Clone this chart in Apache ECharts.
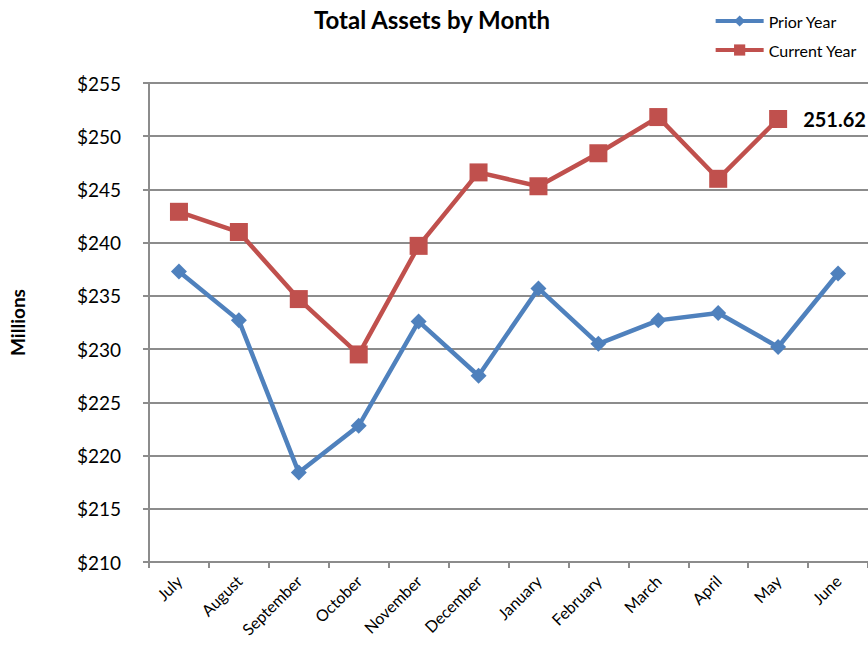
<!DOCTYPE html>
<html>
<head>
<meta charset="utf-8">
<script src="https://cdn.jsdelivr.net/npm/echarts@6/dist/echarts.min.js"></script>
<style>
  html, body { margin: 0; padding: 0; background: #fff; }
  #chart { width: 868px; height: 645px; }
</style>
</head>
<body>
<div id="chart"></div>
<script>
var months = ['July', 'August', 'September', 'October', 'November', 'December',
  'January', 'February', 'March', 'April', 'May', 'June'];
var priorYear = [237.3, 232.7, 218.4, 222.8, 232.6, 227.5, 235.7, 230.5, 232.7, 233.4, 230.2, 237.1];
var currentYear = [242.9, 241.0, 234.7, 229.5, 239.7, 246.6, 245.3, 248.4, 251.8, 246.0, 251.62, null];

(function() {
  var font = 'Lato, "Open Sans", sans-serif';
  var grey = '#8c8c8c';
  var chart = echarts.init(document.getElementById('chart'), null, { renderer: 'svg' });

  var option = {
    animation: false,
    title: {
      text: 'Total Assets by Month',
      left: 427,
      textAlign: 'center',
      top: 2,
      textStyle: { fontFamily: font, fontSize: 24, fontWeight: 'bold', color: '#000' }
    },
    legend: {
      orient: 'vertical',
      right: 6,
      top: 8,
      itemWidth: 48,
      itemHeight: 14,
      itemGap: 13,
      lineStyle: { width: 4 },
      textStyle: { fontFamily: font, fontSize: 16, color: '#000' },
      data: ['Prior Year', 'Current Year']
    },
    grid: { left: 149, right: 0, top: 83, bottom: 83, containLabel: false },
    xAxis: {
      type: 'category',
      data: months,
      boundaryGap: true,
      axisLine: { lineStyle: { color: grey, width: 2 } },
      axisTick: { show: true, length: 6, lineStyle: { color: grey, width: 2 } },
      axisLabel: { rotate: 45, fontFamily: font, fontSize: 16, color: '#000', margin: 16, interval: 0 }
    },
    yAxis: {
      type: 'value',
      min: 210,
      max: 255,
      interval: 5,
      name: 'Millions',
      nameLocation: 'middle',
      nameGap: 122,
      nameTextStyle: { fontFamily: font, fontSize: 19, fontWeight: 'bold', color: '#000' },
      axisLine: { show: true, lineStyle: { color: grey, width: 2 } },
      axisTick: { show: true, length: 6, lineStyle: { color: grey, width: 2 } },
      splitLine: { lineStyle: { color: grey, width: 2 } },
      axisLabel: {
        fontFamily: font, fontSize: 19, color: '#000', margin: 28,
        formatter: function(v) { return '$' + v; }
      }
    },
    series: [
      {
        name: 'Prior Year',
        type: 'line',
        data: priorYear,
        symbol: 'diamond',
        symbolSize: 16,
        lineStyle: { color: '#4f81bd', width: 4.5 },
        itemStyle: { color: '#4f81bd' }
      },
      {
        name: 'Current Year',
        type: 'line',
        data: currentYear,
        symbol: 'rect',
        symbolSize: 18,
        lineStyle: { color: '#c0504d', width: 4.5 },
        itemStyle: { color: '#c0504d' },
        label: {
          show: true,
          position: 'right',
          distance: 16,
          fontFamily: font,
          fontSize: 20,
          fontWeight: 'bold',
          color: '#000',
          formatter: function(p) { return p.dataIndex === 10 ? p.value.toFixed(2) : ''; }
        }
      }
    ]
  };

  chart.setOption(option);
  window.addEventListener('resize', function() { chart.resize(); });
})();
</script>
</body>
</html>
